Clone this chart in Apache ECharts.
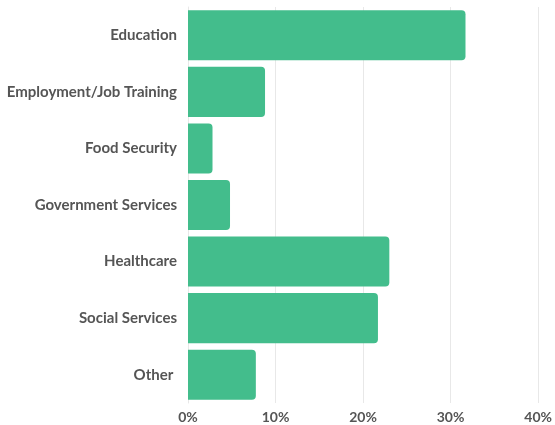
<!DOCTYPE html>
<html>
<head>
<meta charset="utf-8">
<script src="https://cdn.jsdelivr.net/npm/echarts@6/dist/echarts.min.js"></script>
<style>
html,body{margin:0;padding:0;background:#fff;}
#chart{width:555px;height:425px;}
</style>
</head>
<body>
<div id="chart"></div>
<script>
const categories = ["Education", "Employment/Job Training", "Food Security", "Government Services", "Healthcare", "Social Services", "Other "];
const values = [31.7, 8.8, 2.8, 4.8, 23.0, 21.7, 7.75];
const xTicks = [0, 10, 20, 30, 40];

const chart = echarts.init(document.getElementById('chart'));
chart.setOption({
  animation: false,
  grid: { left: 188, right: 16, top: 7, bottom: 22, containLabel: false },
  xAxis: {
    type: 'value',
    min: xTicks[0],
    max: xTicks[xTicks.length - 1],
    interval: 10,
    axisLine: { show: false },
    axisTick: { show: false },
    splitLine: { show: true, lineStyle: { color: '#e8e8e8', width: 1 } },
    axisLabel: {
      formatter: v => v + '%',
      color: '#555',
      fontFamily: 'Lato',
      fontWeight: 'bold',
      fontSize: 14,
      margin: 7
    }
  },
  yAxis: {
    type: 'category',
    data: categories,
    inverse: true,
    axisLine: { show: true, lineStyle: { color: '#e8e8e8' } },
    axisTick: { show: false },
    axisLabel: {
      color: '#555',
      fontFamily: 'Lato',
      fontWeight: 'bold',
      fontSize: 15,
      margin: 11
    }
  },
  series: [{
    type: 'bar',
    data: values,
    barCategoryGap: '11.5%',
    itemStyle: { color: '#43BD8C', borderRadius: [0, 4, 4, 0] }
  }]
});
</script>
</body>
</html>
